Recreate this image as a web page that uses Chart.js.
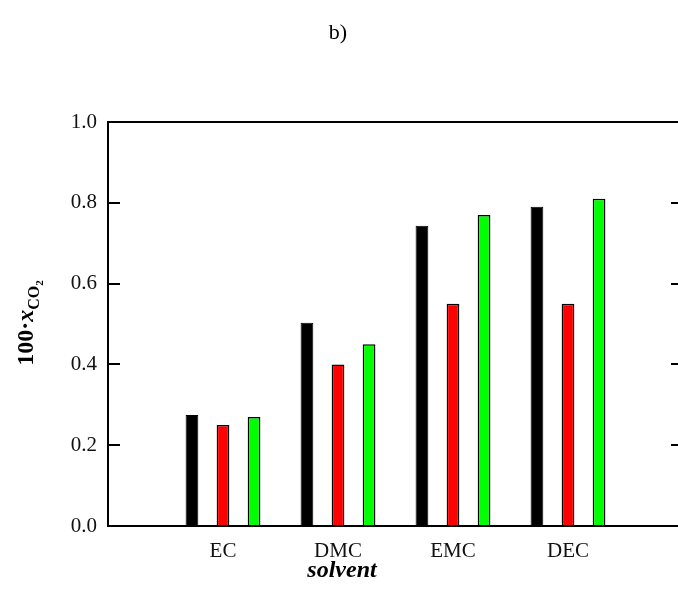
<!DOCTYPE html>
<html>
<head>
<meta charset="utf-8">
<script src="https://cdn.jsdelivr.net/npm/chart.js@4/dist/chart.umd.min.js"></script>
<style>
  html, body { margin: 0; padding: 0; background: #fff; overflow: hidden; }
  #wrap { width: 700px; height: 608px; }
</style>
</head>
<body>
<div id="wrap"><canvas id="chart" width="700" height="608"></canvas></div>
<script>
const categories = ["", "EC", "DMC", "EMC", "DEC", ""];
const blackSeries = [null, 0.275, 0.503, 0.743, 0.79, null];
const redSeries = [null, 0.25, 0.40, 0.55, 0.55, null];
const greenSeries = [null, 0.27, 0.45, 0.77, 0.81, null];
const yTicks = [0.0, 0.2, 0.4, 0.6, 0.8, 1.0];

const SERIF = "'Liberation Serif', 'DejaVu Serif', serif";

// frame, inward ticks and the texts that need sub/superscripts
const decor = {
  id: "decor",
  afterDraw(chart) {
    const { ctx, chartArea: a } = chart;
    const y = chart.scales.y;
    ctx.save();
    ctx.strokeStyle = "#000";
    ctx.lineWidth = 2;
    ctx.strokeRect(a.left, a.top, a.right - a.left, a.bottom - a.top);
    ctx.beginPath();
    yTicks.slice(1, -1).forEach(v => {
      const py = Math.round(y.getPixelForValue(v));
      ctx.moveTo(a.left, py); ctx.lineTo(a.left + 12, py);
      ctx.moveTo(a.right, py); ctx.lineTo(a.right - 12, py);
    });
    ctx.stroke();

    ctx.fillStyle = "#000";
    ctx.textBaseline = "alphabetic";
    ctx.textAlign = "center";
    ctx.font = "22px " + SERIF;
    ctx.fillText("b)", 338, 39);

    ctx.font = "italic bold 24px " + SERIF;
    ctx.fillText("solvent", 342, 577);

    // y title: 100·x_CO2
    const parts = [
      { t: "100·", f: "bold 24px " + SERIF, dy: 0 },
      { t: "x", f: "italic bold 24px " + SERIF, dy: 0 },
      { t: "CO", f: "bold 16px " + SERIF, dy: 6 },
      { t: "2", f: "bold 11px " + SERIF, dy: 10 }
    ];
    ctx.textAlign = "left";
    let total = 0;
    parts.forEach(p => { ctx.font = p.f; p.w = ctx.measureText(p.t).width; total += p.w; });
    ctx.translate(33, 323);
    ctx.rotate(-Math.PI / 2);
    let x = -total / 2;
    parts.forEach(p => { ctx.font = p.f; ctx.fillText(p.t, x, p.dy); x += p.w; });
    ctx.restore();
  }
};

const ctx = document.getElementById("chart").getContext("2d");

new Chart(ctx, {
  type: "bar",
  data: {
    labels: categories,
    datasets: [
      { data: blackSeries, backgroundColor: "#000", borderColor: "#000", borderWidth: 1 },
      { data: redSeries, backgroundColor: "#ff0000", borderColor: "#000", borderWidth: 1.5 },
      { data: greenSeries, backgroundColor: "#00ff00", borderColor: "#000", borderWidth: 1.5 }
    ]
  },
  options: {
    responsive: false,
    animation: false,
    devicePixelRatio: 1,
    layout: { padding: { left: 0, right: 17, top: 122, bottom: 0 } },
    categoryPercentage: 0.81,
    barPercentage: 0.41,
    plugins: { legend: { display: false }, tooltip: { enabled: false }, title: { display: false } },
    scales: {
      x: {
        offset: false,
        grid: { display: false, drawTicks: false },
        border: { display: false },
        ticks: { color: "#111", font: { family: SERIF, size: 21 }, padding: 13, autoSkip: false, maxRotation: 0 },
        afterFit(s) { s.height = 82; }
      },
      y: {
        min: 0,
        max: 1,
        afterBuildTicks(s) { s.ticks = yTicks.map(v => ({ value: v })); },
        grid: { display: false, drawTicks: false },
        border: { display: false },
        ticks: { color: "#111", font: { family: SERIF, size: 21 }, padding: 11, callback: v => v.toFixed(1) },
        afterFit(s) { s.width = 108; }
      }
    }
  },
  plugins: [decor]
});
</script>
</body>
</html>
